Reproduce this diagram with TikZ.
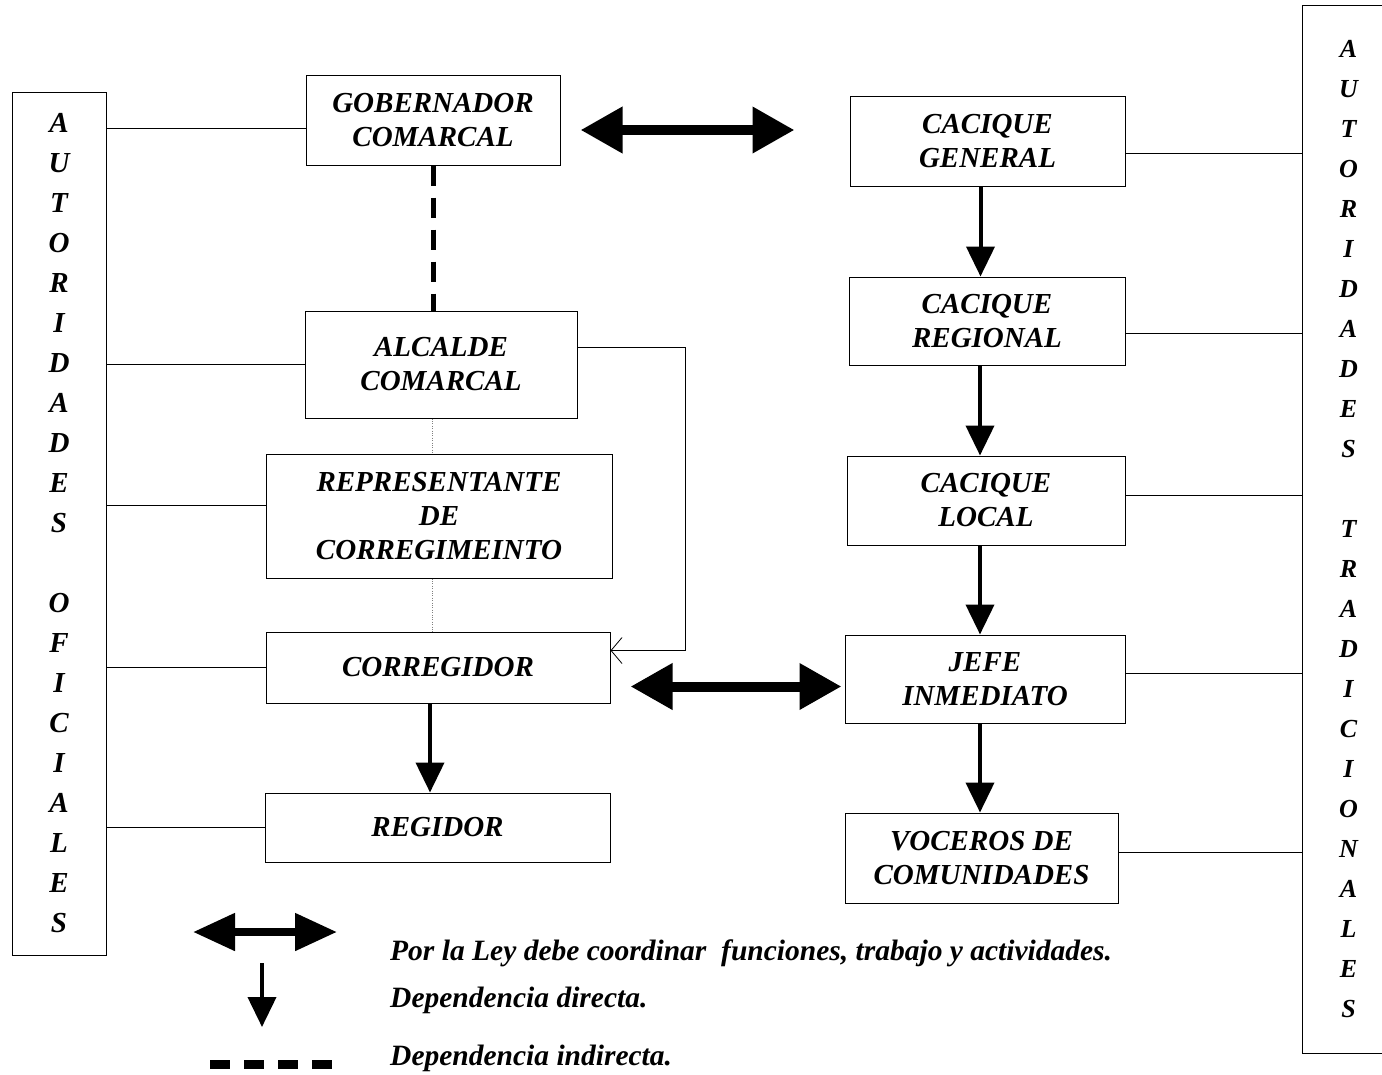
\documentclass[tikz,border=0pt]{standalone}
\usepackage{fontspec}
\setmainfont{Liberation Serif}
\usetikzlibrary{arrows.meta}

\begin{document}
\begin{tikzpicture}[x=1pt,y=-1pt,
  box/.style={draw,line width=1pt,inner sep=0pt,align=center,font=\fontsize{29}{34}\selectfont\bfseries\itshape},
  side/.style={draw,line width=1pt,inner sep=0pt,align=center},
  link/.style={line width=0.8pt},
  dep/.style={line width=4pt,-{Triangle[width=28pt,length=30pt]}},
  coord/.style={line width=10pt,{Triangle[width=44pt,length=42pt]}-{Triangle[width=44pt,length=42pt]}},
  ind/.style={line width=5pt,dash pattern=on 20pt off 12pt},
  note/.style={anchor=west,inner sep=0pt,font=\fontsize{29.5}{34}\selectfont\bfseries\itshape}]
\useasboundingbox (0,0) rectangle (1382,1074);

\node[side,minimum width=94pt,minimum height=863pt,font=\fontsize{29}{40}\selectfont\bfseries\itshape] (ofi) at (59,523.5)
  {A\\U\\T\\O\\R\\I\\D\\A\\D\\E\\S\\[40pt]O\\F\\I\\C\\I\\A\\L\\E\\S};
\node[side,minimum width=93pt,minimum height=1048pt,font=\fontsize{26}{40}\selectfont\bfseries\itshape] (tra) at (1348.5,529)
  {A\\U\\T\\O\\R\\I\\D\\A\\D\\E\\S\\[40pt]T\\R\\A\\D\\I\\C\\I\\O\\N\\A\\L\\E\\S};

\node[box,minimum width=254pt,minimum height=90pt] (gob) at (433,120) {GOBERNADOR\\COMARCAL};
\node[box,minimum width=272pt,minimum height=107pt] (alc) at (441,364.5) {ALCALDE\\COMARCAL};
\node[box,minimum width=346pt,minimum height=124pt] (rep) at (439,516) {REPRESENTANTE\\DE\\CORREGIMEINTO};
\node[box,minimum width=344pt,minimum height=71pt] (corr) at (438,667.5) {CORREGIDOR};
\node[box,minimum width=345pt,minimum height=69pt] (reg) at (437.5,827.5) {REGIDOR};

\node[box,minimum width=275pt,minimum height=90pt] (cg) at (987.5,141) {CACIQUE\\GENERAL};
\node[box,minimum width=276pt,minimum height=88pt] (cr) at (987,321) {CACIQUE\\REGIONAL};
\node[box,minimum width=278pt,minimum height=89pt] (cl) at (986,500.5) {CACIQUE\\LOCAL};
\node[box,minimum width=280pt,minimum height=88pt] (jefe) at (985,679) {JEFE\\INMEDIATO};
\node[box,minimum width=273pt,minimum height=90pt] (voc) at (981.5,858) {VOCEROS DE\\COMUNIDADES};

\draw[link] ([yshift=-8pt]gob.west) -- ([yshift=-8pt]gob.west -| ofi.east);
\draw[link] (alc.west) -- (alc.west -| ofi.east);
\draw[link] ([yshift=11pt]rep.west) -- ([yshift=11pt]rep.west -| ofi.east);
\draw[link] (corr.west) -- (corr.west -| ofi.east);
\draw[link] (reg.west) -- (reg.west -| ofi.east);

\draw[link] ([yshift=-12pt]cg.east) -- ([yshift=-12pt]cg.east -| tra.west);
\draw[link] ([yshift=-12pt]cr.east) -- ([yshift=-12pt]cr.east -| tra.west);
\draw[link] ([yshift=5pt]cl.east) -- ([yshift=5pt]cl.east -| tra.west);
\draw[link] ([yshift=6pt]jefe.east) -- ([yshift=6pt]jefe.east -| tra.west);
\draw[link] ([yshift=6pt]voc.east) -- ([yshift=6pt]voc.east -| tra.west);

\draw[ind] (gob.south) -- (gob.south |- alc.north);
\draw[thin,gray,dotted] ([xshift=-9pt]alc.south) -- ([xshift=-9pt]alc.south |- rep.north);
\draw[thin,gray,dotted] ([xshift=-7pt]rep.south) -- ([xshift=-7pt]rep.south |- corr.north);
\draw[link,-{Straight Barb[length=11pt,width=26pt]}] ([yshift=17pt]alc.east) -- ++(108,0) |- ([yshift=17pt]corr.east);
\draw[dep] ([xshift=-8pt]corr.south) -- ([xshift=-8pt]corr.south |- reg.north);

\draw[dep] ([xshift=-7pt]cg.south) -- ([xshift=-7pt]cg.south |- cr.north);
\draw[dep] ([xshift=-7pt]cr.south) -- ([xshift=-7pt]cr.south |- cl.north);
\draw[dep] ([xshift=-6pt]cl.south) -- ([xshift=-6pt]cl.south |- jefe.north);
\draw[dep] ([xshift=-5pt]jefe.south) -- ([xshift=-5pt]jefe.south |- voc.north);

\draw[coord,shorten <=20pt,shorten >=55pt] ([yshift=-10pt]gob.east) -- ([yshift=-10pt]gob.east -| cg.west);
\draw[coord,shorten <=20pt,shorten >=3pt] ([yshift=-19pt]corr.east) -- ([yshift=-19pt]corr.east -| jefe.west);

\coordinate (k1a) at (193,932);
\coordinate (k1b) at (337,932);
\coordinate (k2a) at (262,963);
\coordinate (k2b) at (262,1027);
\coordinate (k3a) at (210,1064);
\coordinate (k3b) at (332,1064);
\draw[line width=8pt,{Triangle[width=36pt,length=42pt]}-{Triangle[width=36pt,length=42pt]}] (k1a) -- (k1b);
\draw[dep] (k2a) -- (k2b);
\draw[line width=9pt,dash pattern=on 20pt off 14pt] (k3a) -- (k3b);

\node[note] (n1) at (390,953) {Por la Ley debe coordinar\ \ funciones, trabajo y actividades.};
\node[note] (n2) at (390,1000) {Dependencia directa.};
\node[note] (n3) at (390,1058) {Dependencia indirecta.};
\end{tikzpicture}
\end{document}
